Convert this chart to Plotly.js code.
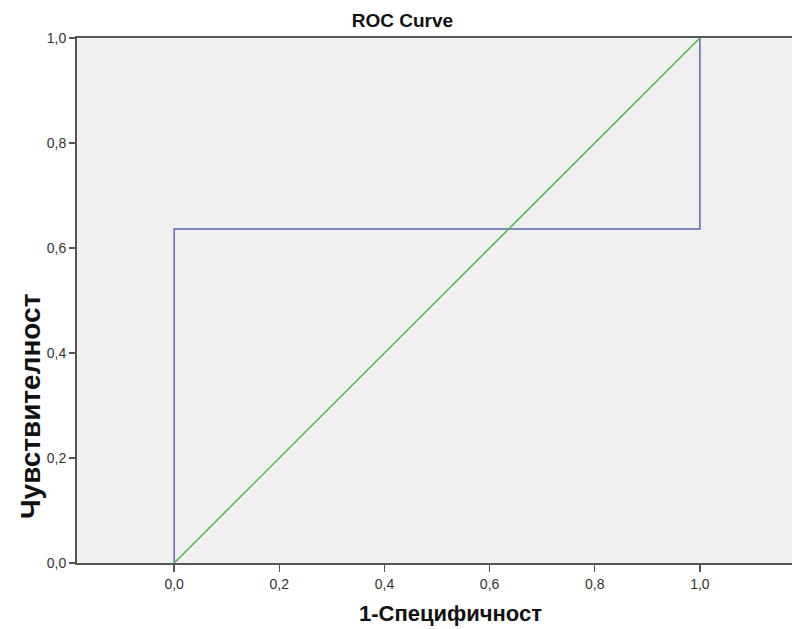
<!DOCTYPE html>
<html>
<head>
<meta charset="utf-8">
<script src="https://cdn.plot.ly/plotly-3.0.1.min.js"></script>
<style>html,body{margin:0;padding:0;background:#fff}#chart{width:792px;height:629px}</style>
</head>
<body>
<div id="chart"></div>
<script>
// ROC curve points (1-specificity, sensitivity)
const rocX = [0, 0, 1, 1];
const rocY = [0, 0.636, 0.636, 1];
// Reference diagonal
const refX = [0, 1];
const refY = [0, 1];
const tickVals = [0, 0.2, 0.4, 0.6, 0.8, 1.0];
const tickLabels = ["0,0", "0,2", "0,4", "0,6", "0,8", "1,0"];

const traces = [
  {x: rocX, y: rocY, mode: 'lines', line: {color: '#5a64b4', width: 1.5}, hoverinfo: 'skip'},
  {x: refX, y: refY, mode: 'lines', line: {color: '#4cbb4c', width: 1.5}, hoverinfo: 'skip'}
];

const layout = {
  width: 792, height: 629,
  margin: {l: 77, r: 0, t: 38, b: 66},
  paper_bgcolor: '#ffffff',
  plot_bgcolor: '#f0f0f0',
  showlegend: false,
  font: {family: 'Arial, Liberation Sans, sans-serif', color: '#333'},
  title: {text: '<b>ROC Curve</b>', font: {size: 19, color: '#111'}, xref: 'container', x: 0.508, xanchor: 'center', yref: 'container', y: 0.968, yanchor: 'middle'},
  xaxis: {
    range: [-0.1848, 1.1752], tickvals: tickVals, ticktext: tickLabels,
    showgrid: false, zeroline: false, showline: true, linecolor: '#555', linewidth: 2,
    mirror: true, ticks: 'outside', ticklen: 7, tickcolor: '#555', tickwidth: 1.5,
    tickfont: {size: 14, color: '#333'}
  },
  yaxis: {
    range: [0, 1], tickvals: tickVals, ticktext: tickLabels,
    showgrid: false, zeroline: false, showline: true, linecolor: '#555', linewidth: 2,
    ticks: 'outside', ticklen: 6, tickcolor: '#555', tickwidth: 1.5,
    tickfont: {size: 14, color: '#333'}
  },
  annotations: [
    {text: '<b>1-Специфичност</b>', xref: 'paper', yref: 'paper', x: 0.523, y: -0.096, xanchor: 'center', yanchor: 'middle', showarrow: false, font: {size: 22, color: '#111'}},
    {text: '<b>Чувствителност</b>', xref: 'paper', yref: 'paper', x: -0.0657, y: 0.297, xanchor: 'center', yanchor: 'middle', textangle: -90, showarrow: false, font: {size: 28, color: '#111'}}
  ]
};

Plotly.newPlot('chart', traces, layout, {displayModeBar: false, staticPlot: true});
</script>
</body>
</html>
